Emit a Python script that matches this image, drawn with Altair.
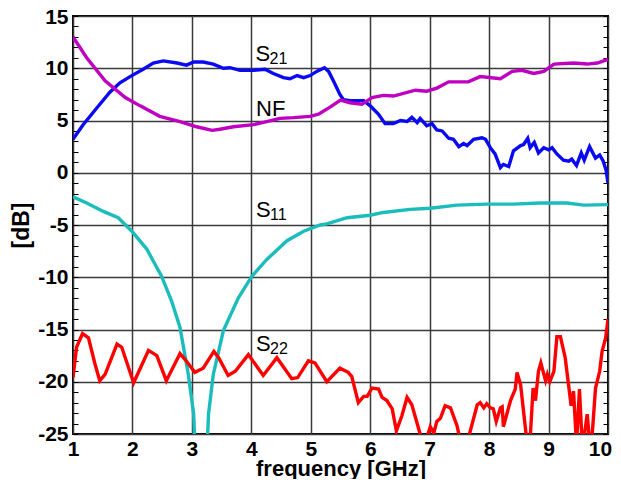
import altair as alt
import pandas as pd

# ---- data ----
s21_f = [1.0, 1.17, 1.40, 1.62, 1.79, 1.96, 2.18, 2.35, 2.52, 2.75, 2.91, 3.03, 3.19, 3.36, 3.53, 3.64, 3.81,
         4.04, 4.23, 4.37, 4.54, 4.65, 4.77, 4.88, 4.99, 5.10, 5.23, 5.30, 5.38, 5.49, 5.55, 5.66, 5.78, 5.89,
         6.0, 6.14, 6.25, 6.39, 6.51, 6.62, 6.70, 6.79, 6.84, 6.95, 7.04, 7.12, 7.21, 7.32, 7.40, 7.49, 7.57,
         7.63, 7.74, 7.88, 7.94, 8.02, 8.10, 8.19, 8.24, 8.33, 8.41, 8.53, 8.58, 8.65, 8.69, 8.76, 8.83, 8.92,
         9.0, 9.06, 9.14, 9.25, 9.34, 9.39, 9.47, 9.55, 9.60, 9.69, 9.79, 9.86, 9.92, 9.97, 10.0]
s21_db = [3.2, 4.6, 6.2, 7.7, 8.6, 9.2, 9.9, 10.5, 10.7, 10.5, 10.3, 10.6, 10.6, 10.4, 10.0, 10.05, 9.8,
          9.8, 9.9, 9.5, 9.1, 9.0, 9.3, 9.1, 9.3, 9.7, 10.05, 9.7, 8.8, 7.5, 7.0, 6.9, 6.9, 6.9,
          6.4, 5.6, 4.7, 4.7, 5.0, 4.9, 5.3, 4.8, 5.2, 4.5, 4.7, 4.1, 4.0, 3.3, 3.2, 2.5, 2.8,
          2.6, 3.2, 3.35, 3.2, 2.4, 1.8, 0.5, 0.8, 0.6, 2.1, 2.6, 2.7, 3.3, 2.4, 2.9, 1.9, 2.4,
          2.2, 2.4, 1.8, 1.2, 1.1, 1.3, 0.7, 1.9, 1.2, 2.5, 1.4, 1.7, 1.1, 0.2, -1.0]

nf_f = [1.0, 1.23, 1.54, 1.88, 2.13, 2.46, 2.80, 3.08, 3.34, 3.47, 3.70, 4.04, 4.26, 4.48, 4.71, 4.99, 5.13,
        5.33, 5.50, 5.66, 5.86, 6.03, 6.22, 6.39, 6.76, 6.95, 7.12, 7.32, 7.65, 7.85, 8.19, 8.39, 8.55, 8.75,
        8.92, 9.09, 9.42, 9.65, 9.82, 10.0]
nf_db = [13.0, 11.0, 8.8, 7.2, 6.4, 5.4, 4.9, 4.4, 4.06, 4.16, 4.4, 4.6, 4.9, 5.2, 5.27, 5.4, 5.6,
         6.3, 6.96, 6.7, 6.55, 7.2, 7.4, 7.34, 7.9, 7.8, 8.1, 8.7, 8.7, 9.2, 9.0, 9.7, 9.8, 9.5,
         9.7, 10.4, 10.5, 10.4, 10.5, 10.85]

s11_f = [1.0, 1.23, 1.51, 1.76, 1.99, 2.24, 2.49, 2.66, 2.80, 2.94, 3.03, 3.15, 3.28, 3.36, 3.53, 3.78,
         4.01, 4.26, 4.60, 4.88, 5.16, 5.27, 5.61, 6.0, 6.22, 6.67, 7.01, 7.46, 7.96, 8.41, 8.86, 9.31, 9.59, 10.0]
s11_db = [-2.3, -2.9, -3.7, -4.3, -5.6, -7.3, -9.9, -12.3, -14.8, -19.3, -23.1, -40.0, -23.1, -19.3, -15.1, -12.0,
          -9.9, -8.3, -6.5, -5.6, -5.0, -4.9, -4.3, -4.07, -3.8, -3.5, -3.4, -3.1, -3.0, -3.0, -2.9, -2.9, -3.1, -3.05]

s22_f = [1.0, 1.06, 1.16, 1.26, 1.37, 1.45, 1.54, 1.74, 1.82, 2.02, 2.27, 2.41, 2.57, 2.80, 2.89, 3.05, 3.19,
         3.37, 3.45, 3.61, 3.73, 3.95, 4.20, 4.43, 4.68, 4.78, 4.96, 5.07, 5.27, 5.49, 5.63, 5.69, 5.80, 5.89,
         5.95, 6.03, 6.14, 6.20, 6.28, 6.37, 6.44, 6.53, 6.62, 6.70, 6.84, 6.92, 7.01, 7.07, 7.12, 7.18, 7.26,
         7.35, 7.46, 7.57, 7.67, 7.80, 7.85, 7.91, 7.96, 8.02, 8.07, 8.12, 8.19, 8.22, 8.24, 8.36, 8.44, 8.47,
         8.53, 8.67, 8.74, 8.78, 8.83, 8.87, 8.95, 8.98, 9.02, 9.09, 9.14, 9.20, 9.28, 9.38, 9.42, 9.47, 9.52,
         9.57, 9.65, 9.71, 9.79, 9.86, 9.90, 9.96, 10.0]
s22_db = [-19.6, -16.7, -15.4, -15.8, -18.3, -19.9, -19.3, -16.4, -16.7, -20.1, -17.0, -17.5, -19.9, -17.3, -17.9, -19.1, -18.7,
          -17.1, -17.7, -19.4, -19.0, -17.4, -19.4, -17.7, -19.7, -19.6, -18.0, -18.2, -20.0, -18.7, -19.1, -19.5, -22.0, -21.4,
          -21.4, -20.6, -20.7, -21.5, -21.8, -22.6, -24.7, -23.3, -21.5, -22.2, -25.0, -26.0, -24.3, -24.9, -23.8, -23.5, -22.3,
          -22.5, -24.2, -27.0, -25.0, -22.2, -22.0, -22.5, -22.1, -22.5, -22.6, -23.8, -22.5, -22.4, -24.3, -21.8, -20.7, -19.1,
          -20.3, -27.5, -20.6, -21.8, -19.0, -18.2, -19.9, -19.3, -20.0, -19.0, -15.7, -15.7, -17.7, -22.3, -20.9, -26.0, -20.7,
          -26.5, -23.1, -27.0, -20.6, -19.0, -17.1, -15.8, -14.0]

series_names = ["S21", "NF", "S11", "S22"]
series_colors = ["#0a0af0", "#c000c0", "#1abcbc", "#ff0000"]

label_main = ["S", "NF", "S", "S"]
label_sub = ["21", "", "11", "22"]
label_f = [4.07, 4.08, 4.08, 4.08]
label_db = [11.4, 6.1, -3.6, -16.4]

x_ticks = list(range(1, 11))
y_ticks = list(range(-25, 16, 5))
y_minor = list(range(-25, 16, 1))

# ---- build tables ----
frames = []
for name, fs, ds in [("S21", s21_f, s21_db), ("NF", nf_f, nf_db), ("S11", s11_f, s11_db), ("S22", s22_f, s22_db)]:
    assert len(fs) == len(ds), name
    frames.append(pd.DataFrame({"f": fs, "db": ds, "series": name}))
df = pd.concat(frames, ignore_index=True)
labels = pd.DataFrame({"f": label_f, "db": label_db, "main": label_main, "sub": label_sub})

FONT = "Liberation Sans"
xscale = alt.Scale(domain=[1, 10], nice=False, zero=False)
yscale = alt.Scale(domain=[-25, 15], nice=False, zero=False)

x_main = alt.X("f:Q", scale=xscale, axis=alt.Axis(
    values=x_ticks, title="frequency [GHz]", grid=True, gridColor="#3a3a3a", gridWidth=1.5,
    domain=False, ticks=False, labelPadding=4, labelFlush=False,
    labelOffset=alt.condition("datum.value == 10", alt.value(-8), alt.value(0)),
    labelFont=FONT, labelFontSize=21,
    labelFontWeight="bold", labelColor="black", labelExpr="datum.value + ''", titleFont=FONT,
    titleFontSize=22, titleFontWeight="bold", titleColor="black",
    titleBaseline="alphabetic", titleY=41))
y_main = alt.Y("db:Q", scale=yscale, axis=alt.Axis(
    values=y_ticks, title="[dB]", grid=True, gridColor="#3a3a3a", gridWidth=1.5,
    domain=False, ticks=False, labelPadding=5, labelFlush=False,
    labelOffset=alt.condition("datum.value == 15", alt.value(1), alt.value(0)),
    labelFont=FONT, labelFontSize=21,
    labelFontWeight="bold", labelColor="black", labelExpr="datum.value + ''", titleFont=FONT,
    titleFontSize=23, titleFontWeight="bold", titleColor="black", titlePadding=4))

lines = alt.Chart(df).mark_line(strokeWidth=3.4, clip=True).encode(
    x=x_main, y=y_main,
    color=alt.Color("series:N", scale=alt.Scale(domain=series_names, range=series_colors), legend=None),
)

def minor_axis(orient):
    return alt.Chart(df).mark_point(opacity=0).encode(
        x=alt.X("f:Q", scale=xscale),
        y=alt.Y("db:Q", scale=yscale, axis=alt.Axis(
            orient=orient, values=y_minor, labels=False, domain=False, grid=False, title=None,
            ticks=True, tickSize=5, tickWidth=1, tickColor="black", offset=-5)),
    )

main_text = alt.Chart(labels).mark_text(align="left", baseline="middle", font=FONT, fontSize=22, color="black").encode(
    x=alt.X("f:Q", scale=xscale), y=alt.Y("db:Q", scale=yscale, axis=None), text="main:N")
sub_text = alt.Chart(labels).mark_text(align="left", baseline="middle", font=FONT, fontSize=16, color="black",
                                       dx=14, dy=5).encode(
    x=alt.X("f:Q", scale=xscale), y=alt.Y("db:Q", scale=yscale, axis=None), text="sub:N")

chart = alt.layer(lines, minor_axis("left"), minor_axis("right"), main_text, sub_text).resolve_axis(
    y="independent"
).properties(
    width=535, height=418,
    background="white",
    autosize=alt.AutoSizeParams(type="none"),
    padding={"left": 65, "top": 8, "right": 5, "bottom": 45},
).configure_view(stroke="black", strokeWidth=2)

chart.save("out.html", embed_options={"renderer": "svg", "actions": False})
